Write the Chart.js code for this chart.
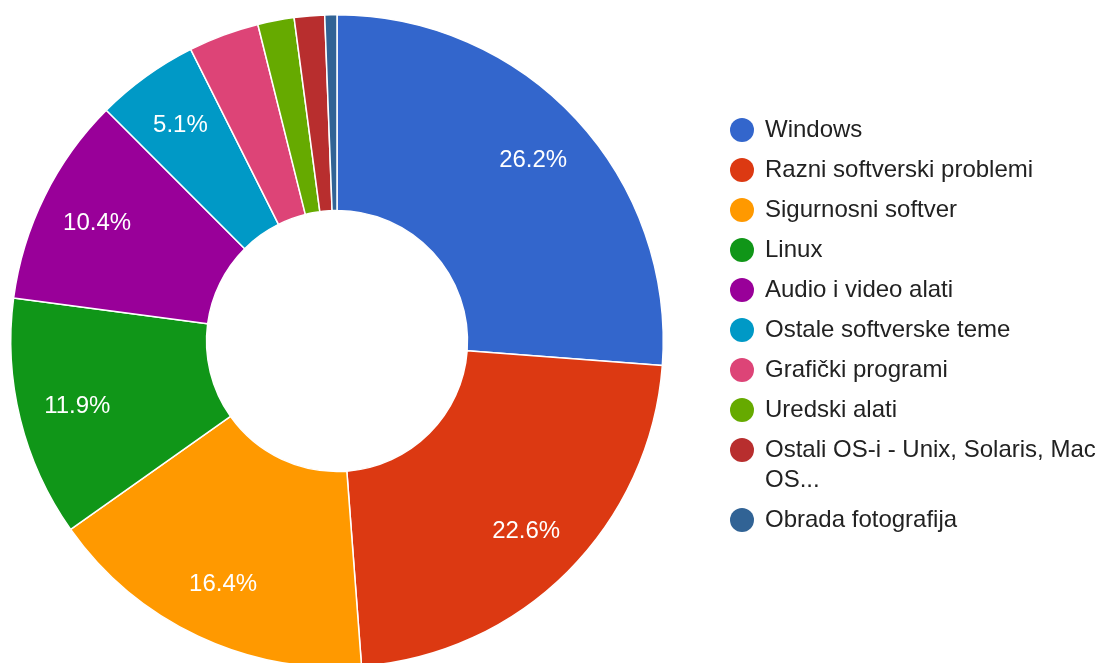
<!DOCTYPE html>
<html>
<head>
<meta charset="utf-8">
<script src="https://cdn.jsdelivr.net/npm/chart.js@4"></script>
<style>
  html, body { margin: 0; padding: 0; background: #fff; }
  #wrap { position: relative; width: 1105px; height: 663px; overflow: hidden; }
  #chart { position: absolute; left: 0; top: 0; }
  #legend {
    position: absolute; left: 730px; top: 114px; width: 370px;
    font-family: Arial, "Liberation Sans", sans-serif; font-size: 24px; color: #222;
    list-style: none; margin: 0; padding: 0;
  }
  #legend li { display: flex; align-items: flex-start; margin-bottom: 10px; line-height: 30px; }
  #legend .dot { flex: none; width: 24px; height: 24px; border-radius: 50%; margin-top: 4px; margin-right: 11px; }
  #legend .txt { width: 335px; }
</style>
</head>
<body>
<div id="wrap">
  <canvas id="chart" width="1105" height="700"></canvas>
  <ul id="legend"></ul>
</div>
<script>
const labels = ['Windows', 'Razni softverski problemi', 'Sigurnosni softver', 'Linux',
  'Audio i video alati', 'Ostale softverske teme', 'Grafički programi', 'Uredski alati',
  'Ostali OS-i - Unix, Solaris, Mac OS...', 'Obrada fotografija'];
const values = [26.2, 22.6, 16.4, 11.9, 10.4, 5.1, 3.5, 1.8, 1.5, 0.6];
const colors = ['#3366cc', '#dc3912', '#ff9900', '#109618', '#990099',
  '#0099c6', '#dd4477', '#66aa00', '#b82e2e', '#316395'];

// percentage text inside the bigger slices
const sliceLabels = {
  id: 'sliceLabels',
  afterDatasetsDraw(chart) {
    const ctx = chart.ctx;
    const data = chart.data.datasets[0].data;
    const total = data.reduce((a, b) => a + b, 0);
    ctx.save();
    ctx.fillStyle = '#fff';
    ctx.font = '24px Arial, "Liberation Sans", sans-serif';
    ctx.textAlign = 'center';
    ctx.textBaseline = 'middle';
    chart.getDatasetMeta(0).data.forEach((arc, i) => {
      const pct = data[i] / total * 100;
      if (pct < 5) return;
      const p = arc.getProps(['x', 'y', 'startAngle', 'endAngle', 'innerRadius', 'outerRadius'], true);
      const mid = (p.startAngle + p.endAngle) / 2;
      const r = p.innerRadius + 0.7 * (p.outerRadius - p.innerRadius);
      ctx.fillText(pct.toFixed(1) + '%', p.x + Math.cos(mid) * r, p.y + Math.sin(mid) * r + 1);
    });
    ctx.restore();
  }
};

const chart = new Chart(document.getElementById('chart'), {
  type: 'doughnut',
  data: {
    labels: labels,
    datasets: [{
      data: values,
      backgroundColor: colors,
      borderColor: '#fff',
      borderWidth: 1.5
    }]
  },
  options: {
    responsive: false,
    animation: false,
    events: [],
    cutout: '40%',
    layout: { padding: { left: 10, top: 14, right: 441, bottom: 32 } },
    plugins: {
      legend: { display: false },
      tooltip: { enabled: false }
    }
  },
  plugins: [sliceLabels]
});

// html legend so the long label can wrap
const legendEl = document.getElementById('legend');
chart.options.plugins.legend.labels.generateLabels(chart).forEach(item => {
  const li = document.createElement('li');
  const dot = document.createElement('span');
  dot.className = 'dot';
  dot.style.background = item.fillStyle;
  const txt = document.createElement('span');
  txt.className = 'txt';
  txt.textContent = item.text;
  li.appendChild(dot);
  li.appendChild(txt);
  legendEl.appendChild(li);
});
</script>
</body>
</html>
